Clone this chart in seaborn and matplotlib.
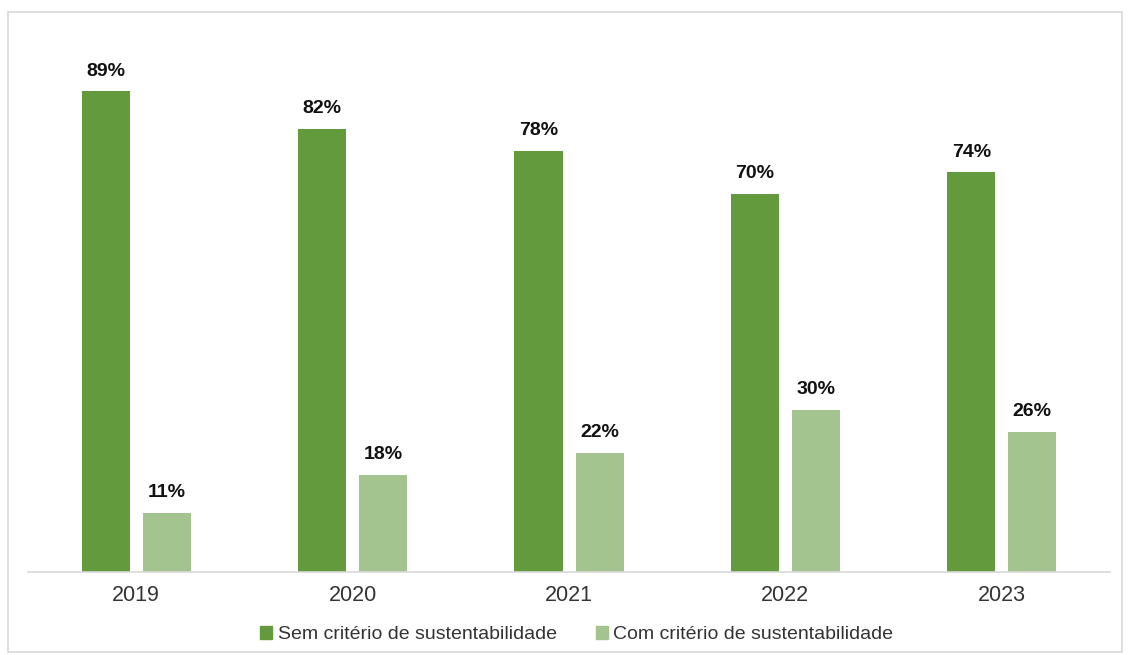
import pandas as pd
import matplotlib.pyplot as plt
import seaborn as sns
from matplotlib.patches import Rectangle

years = ['2019', '2020', '2021', '2022', '2023']
sem_criterio = [89, 82, 78, 70, 74]
com_criterio = [11, 18, 22, 30, 26]
series_names = ['Sem critério de sustentabilidade', 'Com critério de sustentabilidade']

df = pd.DataFrame({
    'ano': years * 2,
    'valor': sem_criterio + com_criterio,
    'serie': [series_names[0]] * len(years) + [series_names[1]] * len(years),
})

sns.set_theme(style='white')
plt.rcParams['font.family'] = ['Liberation Sans', 'DejaVu Sans']

fig = plt.figure(figsize=(11.29, 6.55), dpi=100)
ax = fig.add_axes([0.0248, 0.1267, 0.9584, 0.8243])

palette = ['#629A3D', '#A3C48E']
sns.barplot(data=df, x='ano', y='valor', hue='serie', palette=palette,
            width=0.564, gap=0.213, ax=ax, legend=False, saturation=1, linewidth=0)

# rótulos de dados
for cont in ax.containers:
    for bar in cont:
        h = bar.get_height()
        ax.text(bar.get_x() + bar.get_width() / 2, h + 2.2, f'{h:.0f}%',
                ha='center', va='bottom', fontsize=14, fontweight='bold', color='#111111')

ax.set_ylim(0, 100)
ax.set_xlim(-0.5, len(years) - 0.5)
ax.set_xlabel('')
ax.set_ylabel('')
ax.set_yticks([])
for s in ['top', 'right', 'left']:
    ax.spines[s].set_visible(False)
ax.spines['bottom'].set_color('#D9D9D9')
ax.spines['bottom'].set_linewidth(1.2)
ax.tick_params(axis='x', length=0, labelsize=15.5, labelcolor='#333333', pad=9)

handles = [Rectangle((0, 0), 1, 1, color=c) for c in palette]
fig.legend(handles, series_names, loc='center', bbox_to_anchor=(0.511, 0.031),
           ncol=2, frameon=False, fontsize=14, handlelength=0.6, handleheight=0.6,
           handletextpad=0.3, columnspacing=2.0, labelcolor='#333333')

# moldura
fig.patches.append(Rectangle((8 / 1129, 3 / 655), 1114 / 1129, 640 / 655,
                             transform=fig.transFigure, fill=False,
                             edgecolor='#D9D9D9', linewidth=1.2))

fig.savefig('out.png', dpi=100)
